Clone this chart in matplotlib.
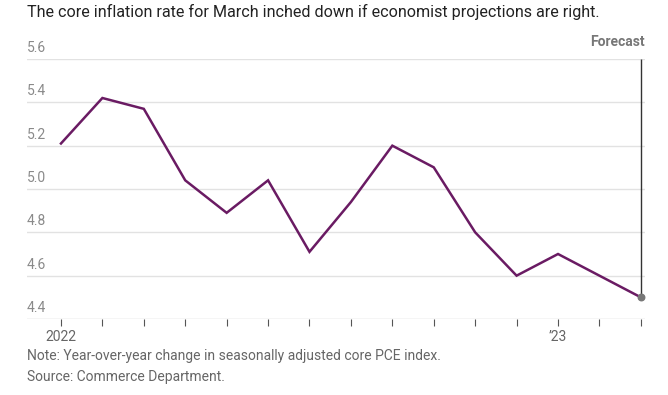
import matplotlib.pyplot as plt

# --- Data: core PCE, year-over-year % change ---
months = ['Jan', 'Feb', 'Mar', 'Apr', 'May', 'Jun', 'Jul', 'Aug', 'Sep',
          'Oct', 'Nov', 'Dec', 'Jan', 'Feb', 'Mar']
values = [5.21, 5.42, 5.37, 5.04, 4.89, 5.04, 4.71, 4.94, 5.20,
          5.10, 4.80, 4.60, 4.70, 4.60, 4.50]
y_ticks = [4.4, 4.6, 4.8, 5.0, 5.2, 5.4, 5.6]
x_labels = {0: '2022', 12: '\u201923'}

plt.rcParams['font.family'] = ['Roboto', 'DejaVu Sans']

fig = plt.figure(figsize=(6.68, 3.95), dpi=100)
ax = fig.add_axes([27 / 668, 1 - 319 / 395, (645 - 27) / 668, (319 - 59) / 395])

x = list(range(len(values)))
ax.plot(x, values, color='#6a1b63', linewidth=1.8, solid_joinstyle='miter', zorder=3)

# forecast marker and line
ax.vlines(x[-1], values[-1], 5.6, color='#333333', linewidth=1, zorder=2)
ax.scatter([x[-1]], [values[-1]], s=22, color='#777777', zorder=4)

ax.set_xlim(-0.82, 14.1)
ax.set_ylim(4.4, 5.6)

# gridlines + labels sitting above each line
for t in y_ticks:
    ax.axhline(t, color='#e2e2e2' if t > 4.4 else '#cccccc', linewidth=1, zorder=1)
    ax.text(0, t + 0.018, f'{t:.1f}', transform=ax.get_yaxis_transform(),
            fontsize=10, color='#8a8a8a', ha='left', va='bottom')

ax.set_yticks([])
ax.set_xticks(x)
ax.set_xticklabels([x_labels.get(i, '') for i in x])
ax.tick_params(axis='x', length=5, width=0.8, color='#555555', labelsize=10,
               labelcolor='#666666', pad=3)
for s in ax.spines.values():
    s.set_visible(False)

fig.text(27 / 668, 1 - 12 / 395, 'The core inflation rate for March inched down if economist projections are right.',
         fontsize=11.6, color='#222222', ha='left', va='center')
fig.text(645 / 668, 1 - 42 / 395, 'Forecast', fontsize=10, color='#777777',
         fontweight='bold', ha='right', va='center')
fig.text(27 / 668, 1 - 356 / 395, 'Note: Year-over-year change in seasonally adjusted core PCE index.',
         fontsize=10, color='#666666', ha='left', va='center')
fig.text(27 / 668, 1 - 377 / 395, 'Source: Commerce Department.',
         fontsize=10, color='#666666', ha='left', va='center')

fig.savefig('out.png', dpi=100)
